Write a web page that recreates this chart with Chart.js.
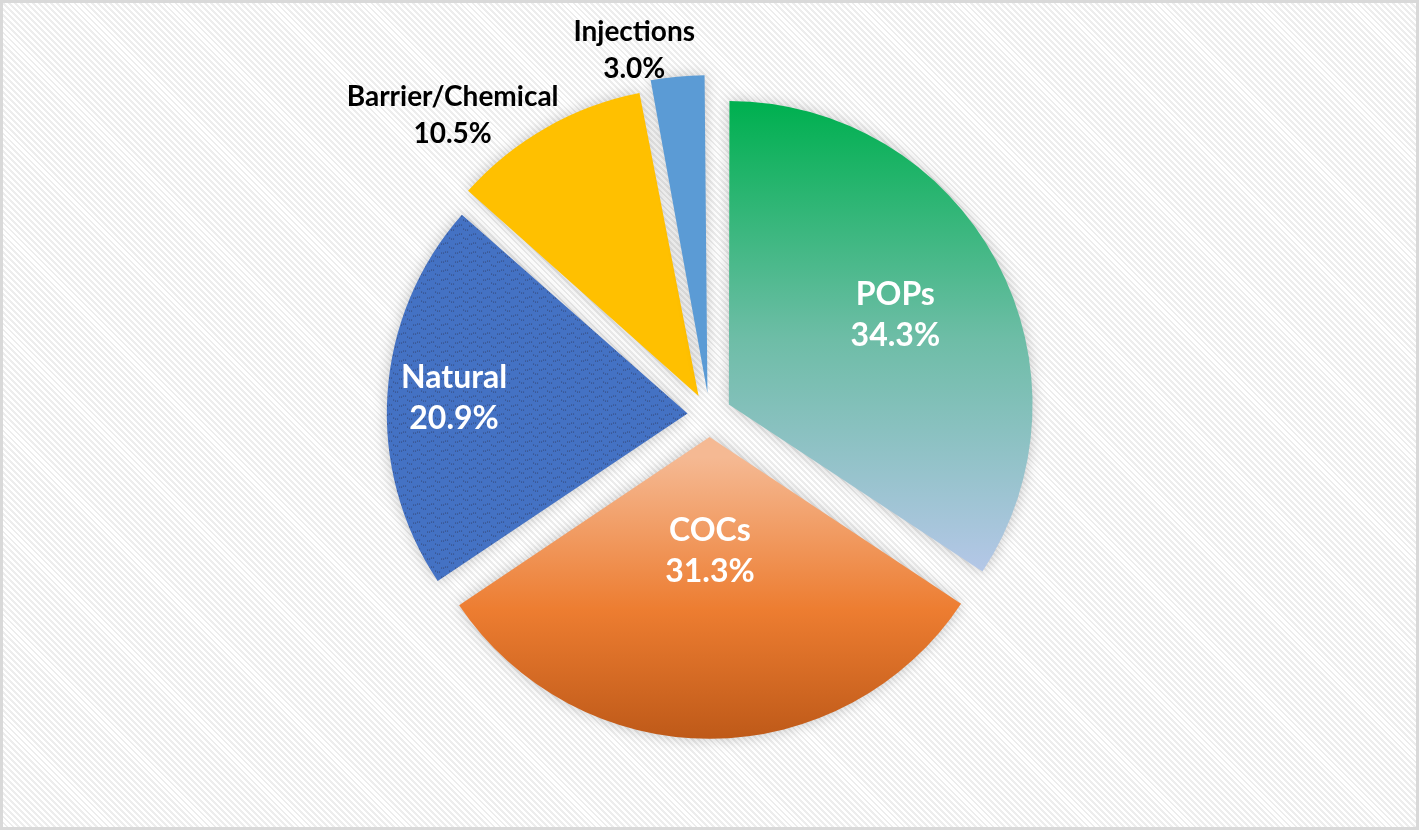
<!DOCTYPE html>
<html>
<head>
<meta charset="utf-8">
<script src="https://cdn.jsdelivr.net/npm/chart.js@4.4.0/dist/chart.umd.min.js"></script>
<style>
  html, body { margin: 0; padding: 0; }
  body { width: 1419px; height: 830px; overflow: hidden; position: relative; }
  .frame {
    position: absolute; left: 0; top: 0;
    box-sizing: border-box; width: 1419px; height: 830px;
    border: 3px solid #d9d9d9;
    background: repeating-linear-gradient(45deg, #ffffff 0 2.2px, #ededed 2.2px 4.2px);
  }
  #chart { position: absolute; left: 0; top: 0; }
</style>
</head>
<body>
<div class="frame"></div>
<canvas id="chart" width="1419" height="830"></canvas>
<script>
  // Anteile in Prozent, im Uhrzeigersinn ab 12 Uhr
  const categories = ["POPs", "COCs", "Natural", "Barrier/Chemical", "Injections"];
  const shares = [34.3, 31.3, 20.9, 10.5, 3.0];

  const solidColors = ["#3cb878", "#ed7d31", "#4472c4", "#ffc000", "#5b9bd5"];
  const labelColors = ["#ffffff", "#ffffff", "#ffffff", "#000000", "#000000"];
  // Abstand des Labels vom Mittelpunkt (Anteil vom Radius), > 1 = außerhalb
  const labelRadius = [0.63, 0.38, 0.78, 1.15, 1.22];

  const RADIUS = 300;
  const EXPLODE = 22; // sichtbarer Abstand in px (Chart.js verschiebt um offset/4)

  // Punktmuster fuer "Natural"
  function makeNaturalPattern() {
    const c = document.createElement("canvas");
    c.width = 14; c.height = 9;
    const g = c.getContext("2d");
    g.fillStyle = "#4472c4";
    g.fillRect(0, 0, 14, 9);
    g.fillStyle = "rgba(40,40,60,0.6)";
    [[1,2],[3,2],[5,1],[7,1],[9,5],[11,6],[13,6]].forEach(([x, y]) => g.fillRect(x, y, 1, 1));
    return g.createPattern(c, "repeat");
  }
  const naturalPattern = makeNaturalPattern();

  function sliceColor(context) {
    const i = context.dataIndex;
    const chart = context.chart;
    const area = chart.chartArea;
    if (!area) return solidColors[i];
    const ctx = chart.ctx;
    const cy = (area.top + area.bottom) / 2;
    const r = RADIUS;
    if (i === 0) {
      const g = ctx.createLinearGradient(0, cy - r, 0, cy + r * 0.55);
      g.addColorStop(0, "#00b050");
      g.addColorStop(0.5, "#6dbda6");
      g.addColorStop(1, "#b4c7e7");
      return g;
    }
    if (i === 1) {
      const g = ctx.createLinearGradient(0, cy + 20, 0, cy + r + 25);
      g.addColorStop(0, "#f5b993");
      g.addColorStop(0.5, "#ed7d31");
      g.addColorStop(1, "#b65314");
      return g;
    }
    if (i === 2) return naturalPattern;
    return solidColors[i];
  }

  // weicher Schatten um die Tortenstuecke
  const shadowPlugin = {
    id: "sliceShadow",
    beforeDatasetsDraw(chart) {
      const ctx = chart.ctx;
      ctx.save();
      ctx.shadowColor = "rgba(0,0,0,0.22)";
      ctx.shadowBlur = 14;
    },
    afterDatasetsDraw(chart) {
      chart.ctx.restore();
    }
  };

  const labelPlugin = {
    id: "sliceLabels",
    afterDatasetsDraw(chart) {
      const ctx = chart.ctx;
      const meta = chart.getDatasetMeta(0);
      ctx.save();
      ctx.textBaseline = "middle";
      ctx.textAlign = "center";
      meta.data.forEach((arc, i) => {
        const p = arc.getProps(["x", "y", "startAngle", "endAngle", "outerRadius"], true);
        const mid = (p.startAngle + p.endAngle) / 2;
        const off = (arc.options.offset || 0) / 4;
        const lines = [categories[i], shares[i].toFixed(1) + "%"];
        const inside = labelRadius[i] < 1;
        ctx.font = "bold " + (inside ? 32 : 28) + "px Lato, 'Open Sans', sans-serif";
        ctx.fillStyle = labelColors[i];
        const lineH = inside ? 41 : 37;
        let cx, cy;
        if (inside) {
          const d = p.outerRadius * labelRadius[i] + off;
          cx = p.x + Math.cos(mid) * d;
          cy = p.y + Math.sin(mid) * d;
        } else {
          const d = p.outerRadius * labelRadius[i];
          const ax = p.x + Math.cos(mid) * d;
          const ay = p.y + Math.sin(mid) * d;
          const w = Math.max(...lines.map(t => ctx.measureText(t).width));
          cx = ax + 20 - w / 2;
          cy = ay;
        }
        lines.forEach((t, k) => {
          ctx.fillText(t, cx, cy + (k - (lines.length - 1) / 2) * lineH);
        });
      });
      ctx.restore();
    }
  };

  new Chart(document.getElementById("chart"), {
    type: "pie",
    data: {
      labels: categories,
      datasets: [{
        data: shares,
        backgroundColor: sliceColor,
        borderWidth: 0,
        offset: EXPLODE * 4
      }]
    },
    options: {
      responsive: false,
      animation: false,
      radius: RADIUS,
      plugins: {
        legend: { display: false },
        tooltip: { enabled: false }
      }
    },
    plugins: [shadowPlugin, labelPlugin]
  });
</script>
</body>
</html>
